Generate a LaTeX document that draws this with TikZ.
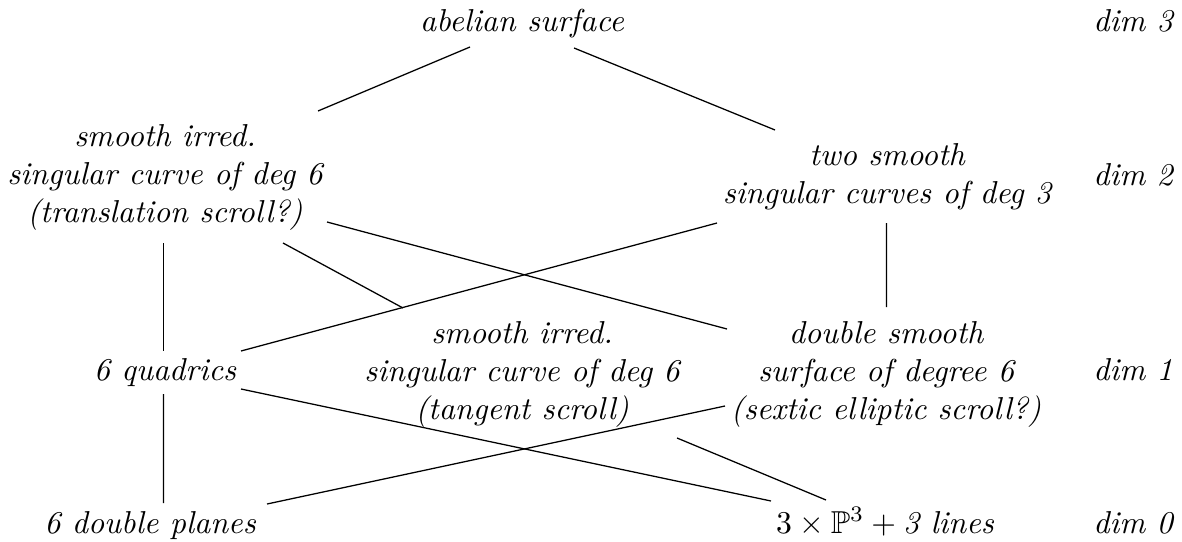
\documentclass[tikz,border=0pt]{standalone}
\usepackage{amssymb}
\usetikzlibrary{calc}
\begin{document}
\begin{tikzpicture}[x=0.3155pt, y=-0.3155pt,
  lbl/.style={font=\itshape, inner sep=0pt, align=center},
  one/.style={lbl, anchor=base},
  edge/.style={line width=0.4pt}]
\useasboundingbox (0,0) rectangle (1182,541);

% top row
\node[one] (abel) at (522,32) {abelian surface};
\node[one] (d3) at (1133,32) {dim 3};

% dimension 2
\node[lbl] (trans) at (165,177) {smooth irred.\\singular curve of deg 6\\(translation scroll?)};
\node[lbl] (two) at (887,177) {two smooth\\singular curves of deg 3};
\node[one] (d2) at (1133,185) {dim 2};

% dimension 1
\node[one] (quad) at (165,380) {6 quadrics};
\node[lbl] (tang) at (522,374) {smooth irred.\\singular curve of deg 6\\(tangent scroll)};
\node[lbl] (sext) at (886,374) {double smooth\\surface of degree 6\\(sextic elliptic scroll?)};
\node[one] (d1) at (1133,380) {dim 1};

% dimension 0
\node[one] (planes) at (150,533) {6 double planes};
\node[one] (pthree) at (885,533) {$3\times\mathbb{P}^3+\textit{3 lines}$};
\node[one] (d0) at (1133,533) {dim 0};

% incidences
\draw[edge] ($(abel.base)+(-52,15)$) -- ($(trans)+(153,-66)$);
\draw[edge] ($(abel.base)+(52,16)$) -- ($(two)+(-112,-47)$);
\draw[edge] ($(trans)+(-1.5,66)$) -- ($(quad.base)+(-1.5,-29)$);
\draw[edge] ($(trans)+(118,66)$) -- ($(tang)+(-119,-66)$);
\draw[edge] ($(trans)+(162,45)$) -- ($(sext)+(-159,-45)$);
\draw[edge] ($(two)+(-170,46)$) -- ($(quad.base)+(76,-29)$);
\draw[edge] ($(two)+(-0.5,46)$) -- ($(sext)+(0.5,-67)$);
\draw[edge] ($(quad.base)+(-1.5,14)$) -- ($(planes.base)+(13.5,-30)$);
\draw[edge] ($(quad.base)+(76,9)$) -- ($(pthree.base)+(-114,-32)$);
\draw[edge] ($(sext)+(-161,32)$) -- ($(planes.base)+(117,-29)$);
\draw[edge] ($(tang)+(155,64)$) -- ($(pthree.base)+(-59,-33)$);
\end{tikzpicture}
\end{document}
